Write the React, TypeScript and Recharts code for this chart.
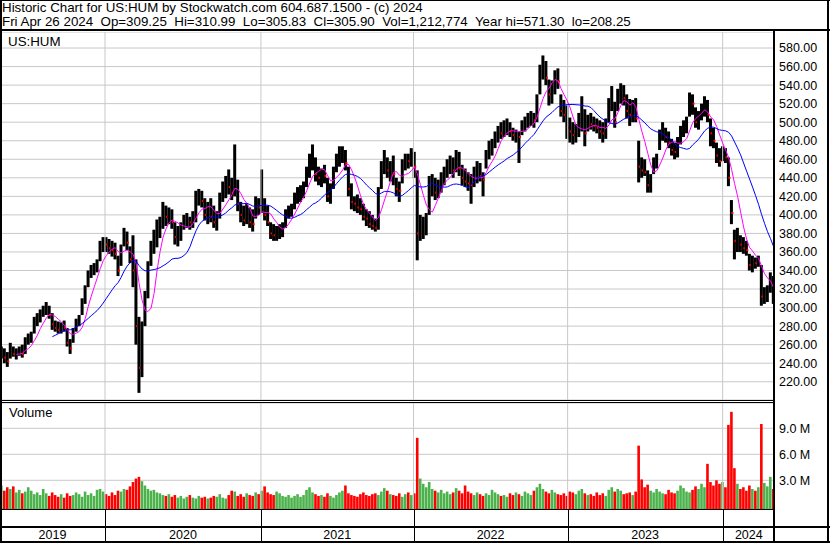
import { Bar, CartesianGrid, ComposedChart, Line, ReferenceLine, XAxis, YAxis } from 'recharts'

const FONT = '"Liberation Sans", Arial, sans-serif'

// year columns on the time axis, as week positions (last entry = end of data)
const YEARS = ['2019', '2020', '2021', '2022', '2023', '2024']
const YEAR_EDGES = [-0.5, 34.6, 86.7, 137.7, 189.2, 241.0, 258.5]

// weekly high / low / close (May 2019 .. Apr 26 2024)
const weekHigh = [
  // 2019
  258, 256, 252, 262, 258, 256, 258, 260, 268, 272, 274, 290, 294, 298, 302, 306, 302, 294,
  286, 285, 284, 286, 278, 266, 278, 288, 292, 310, 324, 340, 346, 348, 352, 372, 376,
  // 2020
  376, 374, 372, 370, 356, 368, 386, 382, 366, 378, 352, 290, 285, 318, 350, 372, 384, 395,
  398, 414, 410, 408, 406, 392, 388, 392, 400, 402, 398, 404, 426, 428, 426, 418, 414, 418,
  410, 404, 424, 436, 442, 449, 440, 476, 438, 414, 410, 412, 408, 406, 420, 418,
  // 2021
  449, 418, 410, 392, 390, 388, 390, 392, 406, 410, 412, 424, 430, 432, 436, 452, 466, 476,
  462, 452, 450, 454, 440, 434, 452, 466, 474, 474, 470, 452, 434, 420, 422, 418, 412, 406,
  404, 400, 396, 430, 458, 470, 462, 458, 464, 440, 436, 460, 466, 466, 472, 468,
  // 2022
  448, 400, 398, 402, 442, 444, 440, 438, 446, 452, 460, 464, 462, 470, 468, 454, 450, 446,
  444, 452, 458, 456, 446, 470, 480, 482, 490, 496, 500, 502, 504, 500, 494, 492, 490, 502,
  506, 510, 512, 510, 530, 562, 572, 566, 546, 545, 556, 558, 530, 524, 518, 505,
  // 2023
  500, 498, 510, 528, 514, 508, 510, 506, 504, 502, 500, 504, 526, 539, 522, 536, 542, 540,
  530, 525, 524, 526, 480, 462, 460, 448, 444, 462, 466, 492, 500, 494, 490, 482, 478, 484,
  496, 502, 506, 532, 530, 516, 512, 520, 528, 524, 504, 494, 478, 472, 474, 472,
  // 2024
  462, 416, 384, 386, 378, 376, 372, 358, 356, 354, 356, 346, 322, 324, 338, 334,
]

const weekLow = [
  // 2019
  245, 240, 236, 245, 247, 244, 248, 246, 250, 260, 262, 272, 280, 284, 290, 292, 288, 276,
  274, 272, 272, 274, 258, 250, 262, 274, 280, 292, 304, 322, 332, 335, 338, 350, 360,
  // 2020
  360, 358, 355, 352, 334, 345, 366, 362, 348, 322, 260, 208, 225, 280, 310, 345, 358, 365,
  375, 385, 388, 390, 385, 368, 366, 372, 384, 386, 384, 386, 392, 410, 408, 394, 390, 392,
  386, 383, 396, 414, 418, 422, 416, 420, 404, 392, 388, 390, 386, 382, 396, 400,
  // 2021
  402, 394, 388, 374, 372, 372, 374, 376, 386, 396, 398, 406, 412, 414, 418, 430, 440, 448,
  436, 432, 430, 434, 414, 412, 428, 446, 452, 456, 448, 420, 406, 404, 402, 400, 394, 388,
  386, 384, 382, 384, 428, 444, 440, 436, 432, 420, 414, 434, 448, 450, 452, 440,
  // 2022
  351, 372, 374, 378, 400, 420, 416, 418, 424, 432, 440, 444, 440, 446, 442, 432, 430, 426,
  412, 430, 434, 436, 420, 450, 460, 464, 472, 478, 482, 484, 486, 484, 480, 478, 456, 486,
  490, 494, 496, 494, 500, 530, 546, 540, 518, 520, 530, 536, 506, 500, 482, 478,
  // 2023
  476, 478, 484, 490, 474, 490, 492, 490, 488, 482, 478, 482, 500, 512, 494, 512, 520, 518,
  504, 496, 500, 500, 435, 440, 442, 424, 424, 444, 450, 470, 480, 478, 472, 464, 460, 462,
  476, 484, 488, 506, 508, 494, 492, 502, 506, 500, 474, 472, 456, 452, 458, 456,
  // 2024
  431, 390, 352, 360, 360, 358, 356, 340, 338, 342, 344, 302, 304, 306, 316, 304,
]

const weekClose = [
  // 2019
  250, 246, 242, 256, 250, 252, 254, 250, 262, 266, 270, 285, 288, 294, 296, 300, 292, 282,
  278, 276, 280, 278, 262, 256, 275, 284, 290, 306, 318, 336, 340, 344, 348, 366, 370,
  // 2020
  368, 364, 362, 358, 340, 364, 378, 370, 352, 340, 280, 235, 270, 305, 345, 362, 375, 385,
  390, 400, 398, 402, 392, 376, 380, 386, 392, 396, 392, 398, 416, 420, 415, 400, 404, 398,
  392, 398, 418, 428, 432, 430, 424, 440, 412, 400, 394, 404, 392, 390, 410, 408,
  // 2021
  416, 400, 392, 380, 378, 384, 386, 388, 402, 404, 408, 418, 424, 428, 432, 446, 458, 462,
  444, 440, 446, 442, 420, 428, 448, 460, 466, 468, 456, 428, 414, 412, 408, 406, 398, 396,
  390, 388, 386, 424, 450, 458, 448, 452, 444, 428, 426, 452, 460, 458, 462, 452,
  // 2022
  380, 384, 390, 396, 432, 436, 424, 430, 438, 446, 450, 456, 448, 458, 450, 440, 436, 434,
  432, 446, 450, 442, 438, 466, 474, 476, 486, 490, 488, 494, 496, 490, 486, 488, 484, 496,
  500, 504, 506, 502, 526, 555, 560, 548, 530, 536, 548, 544, 512, 508, 494, 490,
  // 2023
  486, 490, 496, 500, 488, 500, 498, 496, 494, 490, 488, 494, 520, 530, 500, 530, 534, 526,
  512, 508, 516, 504, 452, 448, 446, 432, 440, 458, 462, 486, 490, 484, 478, 470, 468, 474,
  490, 494, 498, 522, 520, 500, 506, 512, 520, 508, 488, 480, 464, 458, 468, 462,
  // 2024
  440, 402, 372, 376, 368, 364, 362, 346, 350, 348, 350, 312, 314, 318, 330, 306,
]

// typical daily volume in each week, millions of shares
const weekVolume = [
  // 2019
  2.4, 1.8, 2.2, 2.0, 2.3, 1.6, 1.9, 1.5, 1.7, 2.2, 1.8, 1.4, 1.6, 1.3, 2.0, 1.5, 1.2, 1.6,
  1.3, 1.1, 1.4, 1.0, 1.5, 1.2, 1.3, 1.6, 1.4, 1.1, 1.7, 1.3, 1.5, 1.2, 1.9, 2.0, 1.7,
  // 2020
  1.4, 1.2, 1.6, 1.3, 1.8, 1.7, 2.0, 1.9, 2.3, 2.8, 3.2, 3.4, 2.9, 2.4, 2.0, 1.8, 1.9, 1.6,
  1.5, 1.3, 1.2, 1.4, 1.1, 1.3, 1.0, 1.2, 0.9, 1.1, 1.3, 1.0, 0.9, 1.2, 1.0, 1.1, 0.9, 1.0,
  1.2, 1.1, 1.4, 1.0, 0.9, 1.3, 1.8, 1.7, 1.2, 1.4, 1.1, 1.5, 1.3, 1.2, 1.6, 1.4,
  // 2021
  1.8, 2.3, 1.6, 1.4, 1.3, 1.7, 1.5, 1.2, 1.1, 1.3, 1.0, 1.2, 1.4, 1.1, 1.3, 1.9, 2.2, 1.6,
  1.4, 1.2, 1.3, 1.1, 1.5, 1.2, 1.0, 1.3, 1.6, 1.8, 2.4, 1.5, 1.3, 1.2, 1.1, 1.4, 1.6, 1.3,
  1.2, 1.4, 1.5, 1.3, 1.7, 2.1, 1.8, 1.4, 1.3, 1.2, 1.5, 1.1, 1.4, 1.6, 1.3, 1.5,
  // 2022
  7.9, 3.2, 2.6, 2.2, 2.8, 2.0, 1.8, 1.6, 1.9, 1.5, 1.7, 1.4, 1.6, 2.1, 1.8, 1.5, 2.4, 1.7,
  1.5, 1.3, 1.6, 1.4, 1.2, 1.5, 1.3, 1.9, 1.6, 1.4, 1.2, 1.3, 1.1, 1.5, 1.3, 1.6, 1.4, 1.2,
  1.7, 1.5, 1.3, 1.8, 2.2, 2.6, 2.0, 1.7, 1.5, 1.9, 1.6, 1.4, 1.3, 1.5, 1.2, 1.7,
  // 2023
  1.6, 1.4, 1.8, 2.0, 1.5, 1.3, 1.4, 1.2, 1.6, 1.3, 1.5, 1.2, 1.9, 2.2, 1.7, 2.0, 1.8, 1.4,
  1.5, 1.6, 1.3, 1.7, 7.0, 3.1, 2.2, 2.5, 1.8, 1.6, 2.0, 1.7, 1.5, 1.4, 1.9, 1.6, 1.5, 1.8,
  2.4, 2.1, 1.7, 1.6, 1.9, 2.3, 2.0, 2.6, 2.2, 4.9, 2.8, 2.4, 3.0, 2.6, 2.8, 2.2,
  // 2024
  9.4, 10.9, 4.4, 2.6, 2.0, 2.2, 1.8, 2.4, 2.0, 1.8, 2.2, 9.5, 2.7, 2.3, 3.4, 2.0,
]

const PRICE_TICKS = [220, 240, 260, 280, 300, 320, 340, 360, 380, 400, 420, 440, 460, 480, 500, 520, 540, 560, 580]
const VOLUME_TICKS = [3, 6, 9]

// moving averages over the weekly closes (~30 and ~90 trading days)
function sma(values: number[], n: number) {
  return values.map((_, i) =>
    i < n - 1 ? null : values.slice(i - n + 1, i + 1).reduce((a, b) => a + b, 0) / n
  )
}
const maShort = sma(weekClose, 6)
const maLong = sma(weekClose, 18)

const rows = weekClose.map((c, i) => ({
  i,
  range: [weekLow[i], weekHigh[i]],
  high: weekHigh[i],
  low: weekLow[i],
  close: c,
  down: i > 0 && c < weekClose[i - 1],
  vol: weekVolume[i],
  maShort: maShort[i],
  maLong: maLong[i],
}))

const PLOT_W = 775
const toPx = (w: number) => ((w - YEAR_EDGES[0]) / (YEAR_EDGES[6] - YEAR_EDGES[0])) * PLOT_W

function HiLoBar(props: any) {
  const { x, y, width, height, payload } = props
  if (height == null || isNaN(y)) return null
  const cx = x + width / 2
  const span = payload.high - payload.low || 1
  const cy = y + ((payload.high - payload.close) / span) * height
  return (
    <g>
      <rect x={cx - 1.5} y={y} width={3} height={Math.max(height, 1)} fill="#000" />
      {payload.down && <rect x={cx} y={cy - 1} width={2} height={2} fill="#ff0000" />}
    </g>
  )
}

function VolBar(props: any) {
  const { x, y, width, height, payload } = props
  if (height == null || isNaN(y)) return null
  return (
    <rect
      x={x + width / 2 - 1.3}
      y={y}
      width={2.6}
      height={height + 3}
      fill={payload.down ? '#ff0000' : '#4cb34c'}
    />
  )
}

const line = (left: number, top: number, width: number, height: number) => (
  <div style={{ position: 'absolute', left, top, width, height, background: '#000' }} />
)

export default function App() {
  const axisTick = { fill: '#000', fontSize: 12.5, fontFamily: FONT }
  return (
    <div
      style={{
        position: 'absolute',
        left: 0,
        top: 0,
        width: 830,
        height: 543,
        background: '#fff',
        fontFamily: FONT,
        color: '#000',
        overflow: 'hidden',
      }}
    >
      <div style={{ position: 'absolute', left: 2, top: 1, fontSize: 13.33, lineHeight: '14px', whiteSpace: 'pre' }}>
        {'Historic Chart for US:HUM by Stockwatch.com 604.687.1500 - (c) 2024\n'}
        {'Fri Apr 26 2024  Op=309.25  Hi=310.99  Lo=305.83  Cl=305.90  Vol=1,212,774  Year hi=571.30  lo=208.25'}
      </div>

      <div style={{ position: 'absolute', left: 0, top: 32 }}>
        <ComposedChart width={830} height={368} data={rows} margin={{ top: 0, right: 0, bottom: 0, left: 0 }}>
          <CartesianGrid vertical={false} stroke="#c8c8c8" />
          <XAxis dataKey="i" type="number" domain={[YEAR_EDGES[0], YEAR_EDGES[6]]} hide allowDataOverflow />
          <YAxis
            orientation="right"
            width={55}
            domain={[200.3, 597.3]}
            ticks={PRICE_TICKS}
            interval={0}
            allowDataOverflow
            axisLine={false}
            tickLine={false}
            tickSize={0}
            tickMargin={4}
            tick={axisTick}
            tickFormatter={(v: number) => v.toFixed(2)}
          />
          {YEAR_EDGES.slice(1, 6).map((e) => (
            <ReferenceLine key={e} x={e} stroke="#c8c8c8" />
          ))}
          <Bar dataKey="range" shape={(p: any) => <HiLoBar {...p} />} isAnimationActive={false} />
          <Line dataKey="maShort" stroke="#ff00ff" strokeWidth={1} dot={false} isAnimationActive={false} />
          <Line dataKey="maLong" stroke="#0000ff" strokeWidth={1} dot={false} isAnimationActive={false} />
        </ComposedChart>
      </div>

      <div style={{ position: 'absolute', left: 0, top: 403 }}>
        <ComposedChart width={830} height={106} data={rows} margin={{ top: 0, right: 0, bottom: 0, left: 0 }}>
          <CartesianGrid vertical={false} stroke="#c8c8c8" />
          <XAxis dataKey="i" type="number" domain={[YEAR_EDGES[0], YEAR_EDGES[6]]} hide allowDataOverflow />
          <YAxis
            orientation="right"
            width={55}
            domain={[-0.31, 11.92]}
            ticks={VOLUME_TICKS}
            interval={0}
            allowDataOverflow
            axisLine={false}
            tickLine={false}
            tickSize={0}
            tickMargin={4}
            tick={axisTick}
            tickFormatter={(v: number) => `${v.toFixed(1)} M`}
          />
          {YEAR_EDGES.slice(1, 6).map((e) => (
            <ReferenceLine key={e} x={e} stroke="#c8c8c8" />
          ))}
          <Bar dataKey="vol" shape={(p: any) => <VolBar {...p} />} isAnimationActive={false} />
        </ComposedChart>
      </div>

      <div style={{ position: 'absolute', left: 8, top: 35, fontSize: 13.33, lineHeight: '14px' }}>US:HUM</div>
      <div style={{ position: 'absolute', left: 9, top: 406, fontSize: 13, lineHeight: '14px' }}>Volume</div>

      {YEARS.map((y, k) => {
        const l = toPx(YEAR_EDGES[k])
        const r = toPx(YEAR_EDGES[k + 1])
        return (
          <div
            key={y}
            style={{
              position: 'absolute',
              left: l,
              width: r - l,
              top: 528,
              fontSize: 12.5,
              lineHeight: '14px',
              textAlign: 'center',
            }}
          >
            {y}
          </div>
        )
      })}

      {/* frame */}
      {line(0, 0, 830, 1)}
      {line(0, 0, 2, 543)}
      {line(827, 0, 2, 543)}
      {line(0, 29, 830, 2)}
      {line(0, 400, PLOT_W, 1)}
      {line(0, 402, PLOT_W, 1)}
      {line(773, 31, 2, 512)}
      {line(0, 509, PLOT_W, 1)}
      {line(0, 526, 830, 2)}
      {line(0, 541, 830, 2)}
      {YEAR_EDGES.slice(1, 6).map((e) => (
        <div key={e}>{line(Math.round(toPx(e)), 509, 1, 32)}</div>
      ))}
    </div>
  )
}
